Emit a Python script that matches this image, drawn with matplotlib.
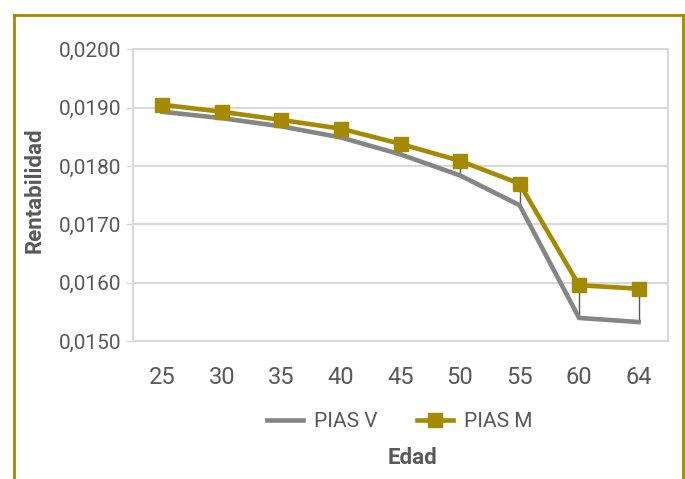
import matplotlib.pyplot as plt
from matplotlib.lines import Line2D
from matplotlib.ticker import FuncFormatter

# Rentabilidad por edad
edades = ["25", "30", "35", "40", "45", "50", "55", "60", "64"]
pias_v = [0.01893, 0.01882, 0.01868, 0.01849, 0.01820, 0.01784, 0.01733, 0.01540, 0.01533]
pias_m = [0.01905, 0.01893, 0.01879, 0.01864, 0.01838, 0.01809, 0.01770, 0.01596, 0.01590]

oro = "#A38A00"
gris = "#858585"
texto = "#595959"
rejilla = "#D9D9D9"

plt.rcParams["font.family"] = ["Roboto", "DejaVu Sans"]

fig = plt.figure(figsize=(6.85, 4.79), dpi=100)
ax = fig.add_axes([0.1937, 0.2875, 0.7820, 0.6096])

x = list(range(len(edades)))
# lineas alto-bajo entre las dos series
ax.vlines(x, pias_v, pias_m, color="#5A5A5A", linewidth=1.0, zorder=2)
ax.plot(x, pias_v, color=gris, linewidth=3.3, solid_joinstyle="miter", zorder=3)
ax.plot(x, pias_m, color=oro, linewidth=3.3, marker="s", markersize=10,
        markerfacecolor=oro, markeredgecolor=oro, zorder=4)

ax.set_xlim(-0.5, 8.5)
ax.set_ylim(0.0150, 0.0200)
ax.set_yticks([0.0150, 0.0160, 0.0170, 0.0180, 0.0190, 0.0200])
ax.yaxis.set_major_formatter(FuncFormatter(lambda v, p: f"{v:.4f}".replace(".", ",")))
ax.set_xticks(x)
ax.set_xticklabels(edades)
ax.grid(axis="y", color=rejilla, linewidth=1.5)
ax.set_axisbelow(True)
for s in ax.spines.values():
    s.set_color(rejilla)
    s.set_linewidth(1.5)
ax.tick_params(axis="y", colors=rejilla, labelcolor=texto, labelsize=15, length=5,
               width=1, pad=3.5)
ax.tick_params(axis="x", length=0, labelcolor=texto, labelsize=17, pad=18)

fig.text(0.051, 0.603, "Rentabilidad", rotation=90, ha="center", va="center",
         fontsize=16, fontweight="bold", color=texto)

handles = [Line2D([], [], color=gris, linewidth=3.3),
           Line2D([], [], color=oro, linewidth=3.3, marker="s", markersize=10)]
fig.legend(handles, ["PIAS V", "PIAS M"], loc="center", bbox_to_anchor=(0.584, 0.119),
           ncol=2, frameon=False, fontsize=15, labelcolor=texto, handlelength=1.7,
           columnspacing=1.9, handletextpad=0.55)
fig.text(0.602, 0.044, "Edad", ha="center", va="center", fontsize=16,
         fontweight="bold", color=texto)

# marco exterior
marco = dict(color=oro, linewidth=2, transform=fig.transFigure)
fig.add_artist(Line2D([0.0204, 0.0204], [-0.01, 0.9697], **marco))
fig.add_artist(Line2D([0.0204, 0.9971], [0.9697, 0.9697], **marco))
fig.add_artist(Line2D([0.9971, 0.9971], [-0.01, 0.9697], **marco))

fig.savefig("out.png", dpi=100)
